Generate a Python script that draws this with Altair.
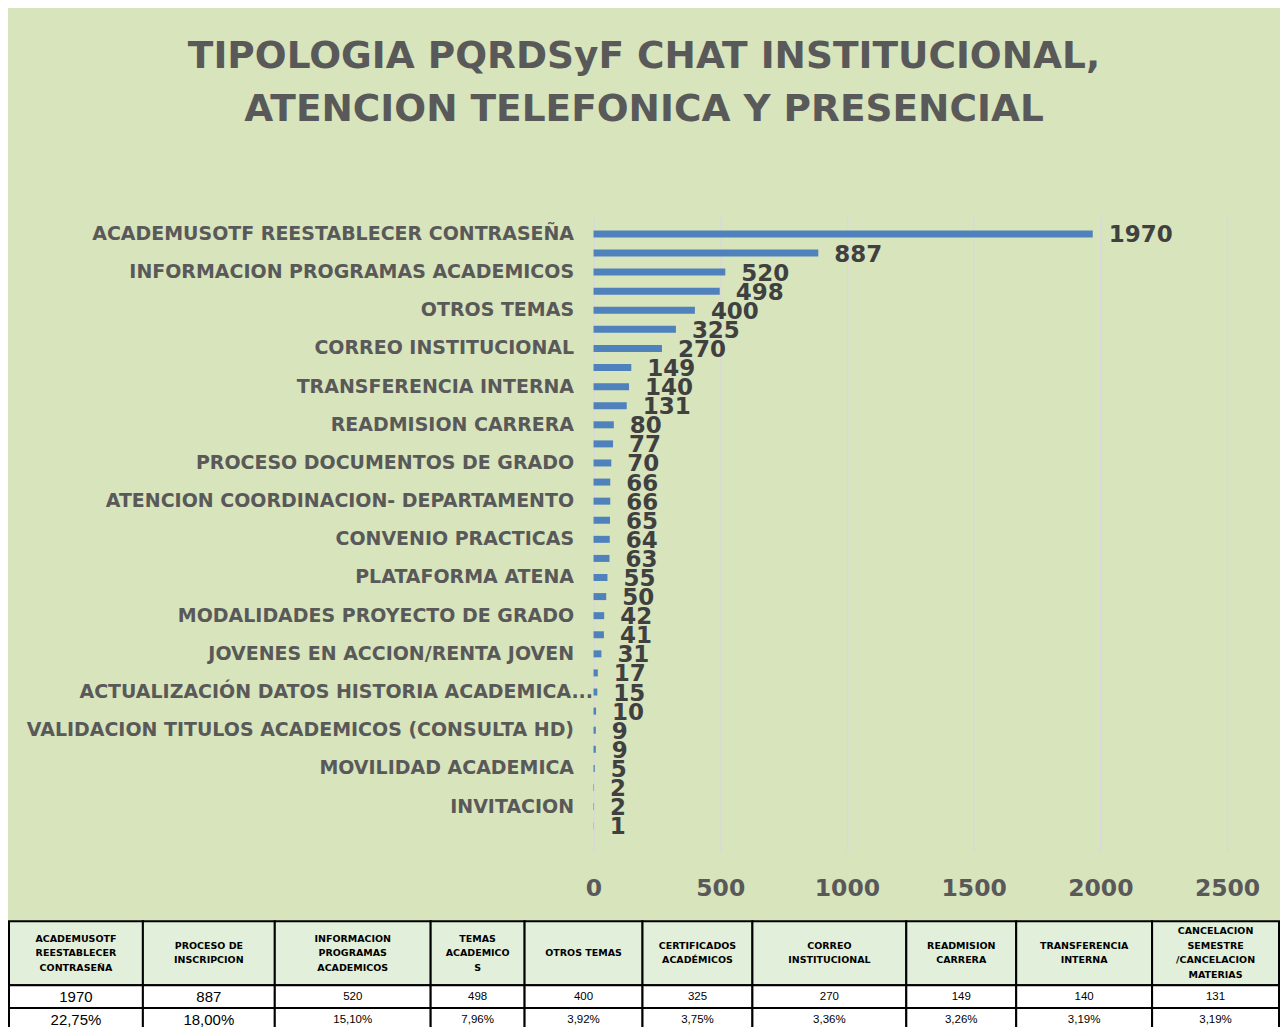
import json
import altair as alt
import pandas as pd

# ---------------- data ----------------
title_lines = ["TIPOLOGIA PQRDSyF CHAT INSTITUCIONAL,", "ATENCION TELEFONICA Y PRESENCIAL"]

values = [1970, 887, 520, 498, 400, 325, 270, 149, 140, 131,
          80, 77, 70, 66, 66, 65, 64, 63, 55, 50,
          42, 41, 31, 17, 15, 10, 9, 9, 5, 2, 2, 1]

# category labels shown on the axis (every other bar carries a label)
shown_labels = [
    "ACADEMUSOTF REESTABLECER CONTRASEÑA",
    "INFORMACION PROGRAMAS ACADEMICOS\u00a0",
    "OTROS TEMAS",
    "CORREO INSTITUCIONAL",
    "TRANSFERENCIA INTERNA\u00a0",
    "READMISION CARRERA",
    "PROCESO DOCUMENTOS DE GRADO",
    "ATENCION COORDINACION- DEPARTAMENTO\u00a0",
    "CONVENIO PRACTICAS\u00a0",
    "PLATAFORMA ATENA",
    "MODALIDADES PROYECTO DE GRADO\u00a0",
    "JOVENES EN ACCION/RENTA JOVEN",
    "ACTUALIZACIÓN DATOS HISTORIA ACADEMICA...",
    "VALIDACION TITULOS ACADEMICOS (CONSULTA HD)",
    "MOVILIDAD ACADEMICA",
    "INVITACION",
]

x_ticks = [0, 500, 1000, 1500, 2000, 2500]

table_headers = [
    ["ACADEMUSOTF", "REESTABLECER", "CONTRASEÑA"],
    ["PROCESO DE", "INSCRIPCION"],
    ["INFORMACION", "PROGRAMAS", "ACADEMICOS"],
    ["TEMAS", "ACADEMICO", "S"],
    ["OTROS TEMAS"],
    ["CERTIFICADOS", "ACADÉMICOS"],
    ["CORREO", "INSTITUCIONAL"],
    ["READMISION", "CARRERA"],
    ["TRANSFERENCIA", "INTERNA"],
    ["CANCELACION", "SEMESTRE", "/CANCELACION", "MATERIAS"],
]
table_counts = [1970, 887, 520, 498, 400, 325, 270, 149, 140, 131]
table_pcts = ["22,75%", "18,00%", "15,10%", "7,96%", "3,92%",
              "3,75%", "3,36%", "3,26%", "3,19%", "3,19%"]

# ---------------- layout constants (page pixels) ----------------
PLOT_X0, PLOT_Y0 = 593, 214
PLOT_W, PLOT_H = 634, 636
COL_EDGES = [8, 142, 274, 430, 524, 642, 752, 906, 1016, 1152, 1279]
ROW_EDGES = [920, 984, 1007, 1031]
HEAD_LH = 14.5

FONT = "DejaVu Sans"
BG = "#D8E4BC"
GREY = "#595959"

# ---------------- bar chart ----------------
bars_df = pd.DataFrame({"rank": list(range(1, len(values) + 1)), "value": values})

labels_js = json.dumps(shown_labels, ensure_ascii=False)
label_expr = f"datum.value % 2 == 1 ? {labels_js}[(datum.value - 1) / 2] : ''"

y_scale = alt.Scale(type="band", domain=list(range(1, len(values) + 1)), paddingInner=0,
                    paddingOuter=0.647, align=0.35)
x_scale = alt.Scale(domain=[0, 2500], nice=False, zero=True)

bars = alt.Chart(bars_df).mark_bar(size=7, color="#4F81BD").encode(
    x=alt.X("value:Q", scale=x_scale, title="",
            axis=alt.Axis(values=x_ticks, format="d", grid=True, gridColor="#D9D9D9",
                          gridWidth=1.5, domain=False, ticks=False, labelFont=FONT,
                          labelFontSize=23.5, labelFontWeight="bold", labelColor=GREY,
                          labelPadding=25, labelFlush=False)),
    y=alt.Y("rank:O", scale=y_scale, title="",
            axis=alt.Axis(labelExpr=label_expr, ticks=False, domain=False, grid=False,
                          labelFont=FONT, labelFontSize=19, labelFontWeight="bold",
                          labelColor=GREY, labelLimit=800,
                          labelPadding={"condition": {"test": "datum.value == 25", "value": 1},
                                        "value": 20})),
)

value_labels = alt.Chart(bars_df).mark_text(
    align="left", baseline="middle", dx=16, dy=1.5, font=FONT, fontSize=23,
    fontWeight="bold", color="#404040"
).encode(
    x=alt.X("value:Q", scale=x_scale, axis=None),
    y=alt.Y("rank:O", scale=y_scale, axis=None),
    text=alt.Text("value:Q", format="d"),
)

# ---------------- table below ----------------
rows = []
for i in range(len(table_counts)):
    x0, x1 = COL_EDGES[i], COL_EDGES[i + 1]
    cells = [("\n".join(table_headers[i]), "head", len(table_headers[i])),
             (str(table_counts[i]), "count", 1),
             (table_pcts[i], "pct", 1)]
    for r, (txt, kind, n) in enumerate(cells):
        y0, y1 = ROW_EDGES[r], ROW_EDGES[r + 1]
        rows.append({"col": i, "kind": kind, "txt": txt, "n": n,
                     "x0": x0, "x1": x1, "xc": (x0 + x1) / 2,
                     "y0": y0, "y1": y1, "yc": (y0 + y1) / 2})
table_df = pd.DataFrame(rows)

tx_scale = alt.Scale(domain=[COL_EDGES[0], COL_EDGES[-1]],
                     range=[COL_EDGES[0] - PLOT_X0, COL_EDGES[-1] - PLOT_X0],
                     nice=False, zero=False)
ty_scale = alt.Scale(domain=[ROW_EDGES[0], ROW_EDGES[-1]],
                     range=[ROW_EDGES[0] - PLOT_Y0, ROW_EDGES[-1] - PLOT_Y0],
                     nice=False, zero=False)

cells = alt.Chart(table_df).mark_rect(stroke="#000000", strokeWidth=2).encode(
    x=alt.X("x0:Q", scale=tx_scale, axis=None),
    x2="x1:Q",
    y=alt.Y("y0:Q", scale=ty_scale, axis=None),
    y2="y1:Q",
    fill=alt.condition("datum.kind == 'head'", alt.value("#E2EFDA"), alt.value("#FFFFFF")),
)

head_text = alt.Chart(table_df).transform_filter("datum.kind == 'head'").transform_calculate(
    ytop=f"datum.yc - (datum.n - 1) * {HEAD_LH / 2}"
).mark_text(
    font=FONT, fontSize=9.5, fontWeight="bold", color="#000000",
    lineBreak="\n", lineHeight=HEAD_LH, baseline="middle", align="center"
).encode(
    x=alt.X("xc:Q", scale=tx_scale, axis=None),
    y=alt.Y("ytop:Q", scale=ty_scale, axis=None),
    text="txt:N",
)

body_text = alt.Chart(table_df).transform_filter("datum.kind != 'head'").mark_text(
    font="Liberation Sans", color="#000000", baseline="middle", align="center"
).encode(
    x=alt.X("xc:Q", scale=tx_scale, axis=None),
    y=alt.Y("yc:Q", scale=ty_scale, axis=None),
    text="txt:N",
    size=alt.condition("datum.col < 2", alt.value(15), alt.value(11.5)),
)

chart = alt.layer(bars, value_labels, cells, head_text, body_text).resolve_scale(
    x="independent", y="independent"
).properties(
    width=PLOT_W, height=PLOT_H,
    padding={"left": 0, "top": 29.5, "right": 0, "bottom": 0},
    title=alt.TitleParams(text=title_lines, font=FONT, fontSize=37.5, fontWeight="bold",
                          color=GREY, anchor="middle", frame="bounds",
                          lineHeight=52.5, offset=87.5),
).configure(background=BG).configure_view(stroke="transparent")

chart.save("out.html", embed_options={"renderer": "svg", "actions": False})
